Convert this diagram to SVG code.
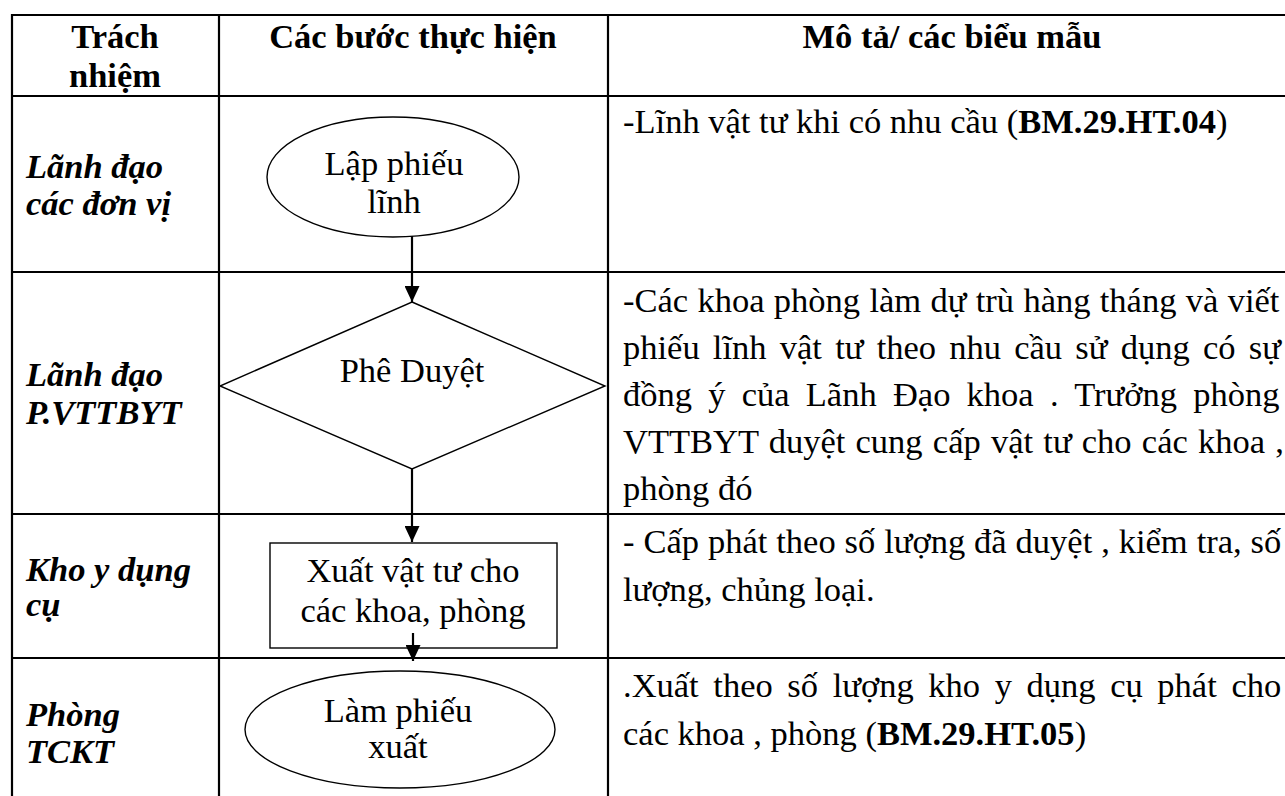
<svg xmlns="http://www.w3.org/2000/svg" width="1285" height="796" viewBox="0 0 1285 796">
<style>
.grid{stroke:#000;stroke-width:2.2;fill:none}
.shape{fill:#fff;stroke:#000;stroke-width:1.4}
.conn{stroke:#000;stroke-width:2.2;fill:none}
text{font-family:"Liberation Serif","Times New Roman",serif;font-size:34.5px;fill:#000}
.hd{font-weight:bold;text-anchor:middle}
.lane{font-weight:bold;font-style:italic}
.ctr{text-anchor:middle}
.b{font-weight:bold}
</style>
<defs>
<marker id="arr" viewBox="0 0 16 15" refX="16" refY="7.5" markerWidth="16" markerHeight="15" markerUnits="userSpaceOnUse" orient="auto">
<path d="M0,0 L16,7.5 L0,15 z" fill="#000"/>
</marker>
</defs>
<rect width="1285" height="796" fill="#fff"/>
<g id="table" class="grid">
<line x1="11" y1="15" x2="1285" y2="15"/>
<line x1="11" y1="96" x2="1285" y2="96"/>
<line x1="11" y1="272" x2="1285" y2="272"/>
<line x1="11" y1="514" x2="1285" y2="514"/>
<line x1="11" y1="658" x2="1285" y2="658"/>
<line x1="12" y1="14" x2="12" y2="796"/>
<line x1="219" y1="14" x2="219" y2="796"/>
<line x1="608" y1="14" x2="608" y2="796"/>
</g>
<g id="header">
<text class="hd" x="115" y="48">Trách</text>
<text class="hd" x="115" y="87">nhiệm</text>
<text class="hd" x="413" y="48">Các bước thực hiện</text>
<text class="hd" x="952" y="48">Mô tả/ các biểu mẫu</text>
</g>
<g id="lanes">
<text class="lane" x="26" y="178">Lãnh đạo</text>
<text class="lane" x="26" y="215">các đơn vị</text>
<text class="lane" x="26" y="386">Lãnh đạo</text>
<text class="lane" x="26" y="424">P.VTTBYT</text>
<text class="lane" x="26" y="581">Kho y dụng</text>
<text class="lane" x="26" y="616">cụ</text>
<text class="lane" x="26" y="726">Phòng</text>
<text class="lane" x="26" y="763">TCKT</text>
</g>
<g id="n1">
<ellipse class="shape" cx="393" cy="177" rx="126" ry="60"/>
<text class="ctr" x="394" y="175">Lập phiếu</text>
<text class="ctr" x="394" y="213">lĩnh</text>
</g>
<g id="n2">
<polygon class="shape" points="412,302 605,386 412,469 220,386"/>
<text class="ctr" x="412" y="382">Phê Duyệt</text>
</g>
<g id="n3">
<rect class="shape" x="270" y="543" width="287" height="105"/>
<text class="ctr" x="413" y="582">Xuất vật tư cho</text>
<text class="ctr" x="413" y="622">các khoa, phòng</text>
</g>
<g id="n4">
<ellipse class="shape" cx="400" cy="729.5" rx="155" ry="58.5"/>
<text class="ctr" x="398" y="722">Làm phiếu</text>
<text class="ctr" x="398" y="758">xuất</text>
</g>
<g id="connectors">
<line class="conn" x1="412" y1="236" x2="412" y2="302" marker-end="url(#arr)"/>
<line class="conn" x1="412" y1="469" x2="412" y2="542" marker-end="url(#arr)"/>
<line class="conn" x1="413" y1="633" x2="413" y2="661" marker-end="url(#arr)"/>
</g>
<g id="desc">
<text x="623" y="133">-Lĩnh vật tư khi có nhu cầu (<tspan class="b">BM.29.HT.04</tspan>)</text>
<text x="623" y="312" word-spacing="0.7">-Các khoa phòng làm dự trù hàng tháng và viết</text>
<text x="623" y="359" word-spacing="4.6">phiếu lĩnh vật tư theo nhu cầu sử dụng có sự</text>
<text x="623" y="406" word-spacing="7.6">đồng ý của Lãnh Đạo khoa . Trưởng phòng</text>
<text x="623" y="453" word-spacing="1.6">VTTBYT duyệt cung cấp vật tư cho các khoa ,</text>
<text x="623" y="500">phòng đó</text>
<text x="623" y="553" word-spacing="0.3">- Cấp phát theo số lượng đã duyệt , kiểm tra, số</text>
<text x="623" y="601">lượng, chủng loại.</text>
<text x="623" y="697" word-spacing="6">.Xuất theo số lượng kho y dụng cụ phát cho</text>
<text x="623" y="745">các khoa , phòng (<tspan class="b">BM.29.HT.05</tspan>)</text>
</g>
</svg>
